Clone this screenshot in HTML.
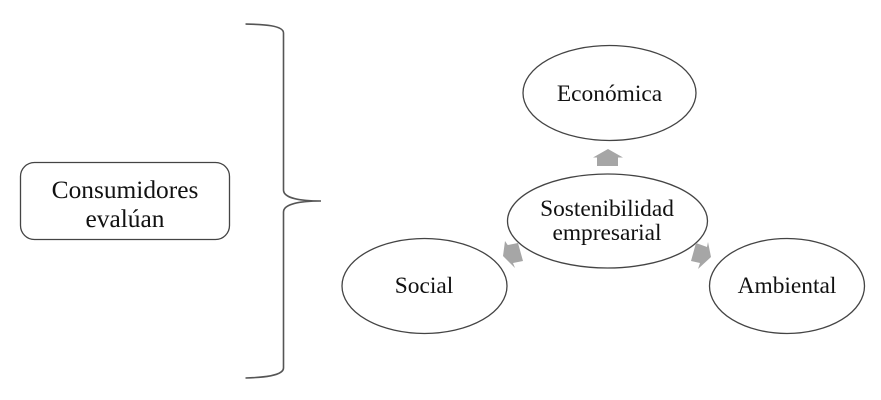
<!DOCTYPE html>
<html><head><meta charset="utf-8"><style>
html,body{margin:0;padding:0;background:#fff}
svg{display:block}
text{font-family:"Liberation Serif",serif;font-size:23.4px;fill:#111;text-anchor:middle}
text.big{font-size:25.4px}
</style></head><body>
<svg width="881" height="400" viewBox="0 0 881 400" xmlns="http://www.w3.org/2000/svg">
<rect width="881" height="400" fill="#fff"/>
<rect x="20.5" y="162.5" width="209" height="77" rx="14" ry="14" fill="#fff" stroke="#444" stroke-width="1.3"/>
<text class="big" x="125" y="198">Consumidores</text>
<text class="big" x="125" y="227">evalúan</text>
<path d="M245.5 24 C262 24.5 283.5 25 283.5 33 L283.5 190 C283.5 198 300 201 321 201 C300 201 283.5 204 283.5 212 L283.5 368 C283.5 376 262 377.5 245.5 378" fill="none" stroke="#555" stroke-width="1.6"/>
<ellipse cx="609.5" cy="93" rx="86.5" ry="47.5" fill="#fff" stroke="#444" stroke-width="1.3"/>
<ellipse cx="607.5" cy="221" rx="100" ry="47" fill="#fff" stroke="#444" stroke-width="1.3"/>
<ellipse cx="424.5" cy="286" rx="82.5" ry="47.5" fill="#fff" stroke="#444" stroke-width="1.3"/>
<ellipse cx="787" cy="286" rx="77.5" ry="47.5" fill="#fff" stroke="#444" stroke-width="1.3"/>
<polygon points="608,149 623,157.5 618,157.5 618,166 597,166 597,157.5 593,157.5" fill="#a6a6a6"/>
<polygon points="505,241 507.7,245 518,243 523,261 513,263 515,268 503,256" fill="#a6a6a6"/>
<polygon points="708,242 711,257 698,269 700,263 691,261 696,243 707,247" fill="#a6a6a6"/>
<text x="609.5" y="101">Económica</text>
<text x="607" y="216">Sostenibilidad</text>
<text x="607" y="240">empresarial</text>
<text x="424" y="293">Social</text>
<text x="787" y="293">Ambiental</text>
</svg>
</body></html>
